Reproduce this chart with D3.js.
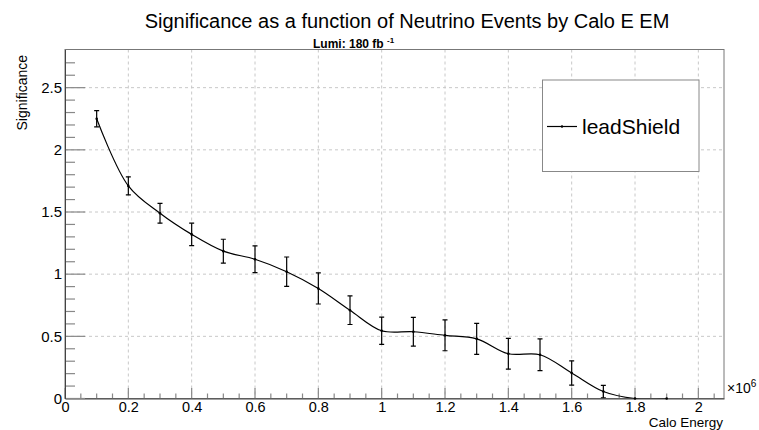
<!DOCTYPE html>
<html><head><meta charset="utf-8">
<script src="https://cdn.jsdelivr.net/npm/d3@7"></script>
<style>body{margin:0;background:#fff}svg{display:block;font-family:"Liberation Sans",Arial,sans-serif}</style>
</head><body><svg id="c" width="759" height="430"></svg>
<script>
const xValues = [0.1,0.2,0.3,0.4,0.5,0.6,0.7,0.8,0.9,1.0,1.1,1.2,1.3,1.4,1.5,1.6,1.7,1.8,1.9];
const significance = [2.25,1.71,1.49,1.32,1.185,1.12,1.02,0.885,0.71,0.545,0.537,0.508,0.48,0.36,0.352,0.205,0.056,0,0];
const errors = [0.065,0.073,0.08,0.09,0.096,0.108,0.118,0.125,0.115,0.11,0.115,0.124,0.125,0.123,0.127,0.098,0.05,0,0];
const xTicks = [0,0.2,0.4,0.6,0.8,1,1.2,1.4,1.6,1.8,2];
const yTicks = [0,0.5,1,1.5,2,2.5];
const seriesName = "leadShield";

const svg = d3.select("#c");
const L=65,R=724,T=49.5,B=398.5;
const x = d3.scaleLinear().domain([0,2.081]).range([L,R]);
const y = d3.scaleLinear().domain([0,2.807]).range([B,T]);

// grid
const gridC="#c8c8c8";
svg.append("g").selectAll("line").data(xTicks.filter(d=>d>0)).join("line")
  .attr("x1",d=>x(d)).attr("x2",d=>x(d)).attr("y1",T).attr("y2",B)
  .attr("stroke",gridC).attr("stroke-dasharray","3,3").attr("stroke-width",1);
svg.append("g").selectAll("line").data(yTicks.filter(d=>d>0)).join("line")
  .attr("y1",d=>y(d)).attr("y2",d=>y(d)).attr("x1",L).attr("x2",R)
  .attr("stroke",gridC).attr("stroke-dasharray","3,3").attr("stroke-width",1);

// frame
svg.append("rect").attr("x",L).attr("y",T).attr("width",R-L).attr("height",B-T)
  .attr("fill","none").attr("stroke","#777").attr("stroke-width",1);

// x axis
const xMinor = d3.range(0,2.081,0.05);
svg.append("g").selectAll("line").data(xMinor).join("line")
  .attr("x1",d=>x(d)).attr("x2",d=>x(d)).attr("y1",B).attr("y2",d=>Math.abs(d*5-Math.round(d*5))<1e-6?B-10.5:B-5)
  .attr("stroke","#888").attr("stroke-width",1.2);
const xa = d3.axisBottom(x).tickValues(xTicks).tickSize(0).tickPadding(3).tickFormat(d3.format("~g"));
svg.append("g").attr("transform",`translate(0,${B})`).call(xa)
  .call(g=>g.select(".domain").attr("stroke","#444"))
  .call(g=>g.selectAll("text").attr("font-size",14.5).attr("fill","#000").attr("font-family","Liberation Sans, Arial"));

// y axis
const yMinor = d3.range(0,2.80,0.1);
svg.append("g").selectAll("line").data(yMinor).join("line")
  .attr("y1",d=>y(d)).attr("y2",d=>y(d)).attr("x1",L).attr("x2",d=>Math.abs(d*2-Math.round(d*2))<1e-6?L+20:L+10)
  .attr("stroke","#888").attr("stroke-width",1.2);
const ya = d3.axisLeft(y).tickValues(yTicks).tickSize(0).tickPadding(3).tickFormat(d3.format("~g"));
svg.append("g").attr("transform",`translate(${L},0)`).call(ya)
  .call(g=>g.select(".domain").attr("stroke","#444"))
  .call(g=>g.selectAll("text").attr("font-size",15).attr("fill","#000").attr("font-family","Liberation Sans, Arial"));

// curve
const data = xValues.map((v,i)=>({x:v,y:significance[i],e:errors[i]}));
svg.append("clipPath").attr("id","clip").append("rect").attr("x",L).attr("y",T).attr("width",R-L).attr("height",B-T);
const line = d3.line().x(d=>x(d.x)).y(d=>y(d.y)).curve(d3.curveCatmullRom.alpha(0.5));
svg.append("path").datum(data).attr("d",line).attr("fill","none").attr("stroke","#000").attr("stroke-width",1.2).attr("clip-path","url(#clip)");

// error bars
const eb = svg.append("g").attr("stroke","#000").attr("stroke-width",1.2).attr("clip-path","url(#clip)");
data.filter(d=>d.e>0).forEach(d=>{
  eb.append("line").attr("x1",x(d.x)).attr("x2",x(d.x)).attr("y1",y(d.y+d.e)).attr("y2",y(d.y-d.e));
  eb.append("line").attr("x1",x(d.x)-2.5).attr("x2",x(d.x)+2.5).attr("y1",y(d.y+d.e)).attr("y2",y(d.y+d.e));
  eb.append("line").attr("x1",x(d.x)-2.5).attr("x2",x(d.x)+2.5).attr("y1",y(d.y-d.e)).attr("y2",y(d.y-d.e));
});
svg.append("g").selectAll("circle").data(data).join("circle")
  .attr("cx",d=>x(d.x)).attr("cy",d=>y(d.y)).attr("r",1.3).attr("fill","#000");

// titles
svg.append("text").attr("x",407).attr("y",28).attr("text-anchor","middle").attr("font-size",20)
  .text("Significance as a function of Neutrino Events by Calo E EM");
const lt = svg.append("text").attr("x",313).attr("y",47.5).attr("font-size",12).attr("font-weight","bold");
lt.append("tspan").text("Lumi: 180 fb ");
lt.append("tspan").attr("dy",-5).attr("font-size",8).text("-1");
svg.append("text").attr("transform","translate(26.5,55) rotate(-90)").attr("text-anchor","end").attr("font-size",14).text("Significance");
svg.append("text").attr("x",723).attr("y",427).attr("text-anchor","end").attr("font-size",13.5).text("Calo Energy");
const m = svg.append("text").attr("x",727).attr("y",393).attr("font-size",14);
m.append("tspan").text("×10");
m.append("tspan").attr("dy",-6).attr("font-size",10).text("6");

// legend
svg.append("rect").attr("x",542.5).attr("y",80).attr("width",156.5).attr("height",91.5).attr("fill","#fff").attr("stroke","#888");
svg.append("line").attr("x1",547).attr("x2",577).attr("y1",126.5).attr("y2",126.5).attr("stroke","#000").attr("stroke-width",1.2);
svg.append("circle").attr("cx",562).attr("cy",126.5).attr("r",1.2).attr("fill","#000");
svg.append("text").attr("x",582).attr("y",133.5).attr("font-size",21).text(seriesName);
</script></body></html>
